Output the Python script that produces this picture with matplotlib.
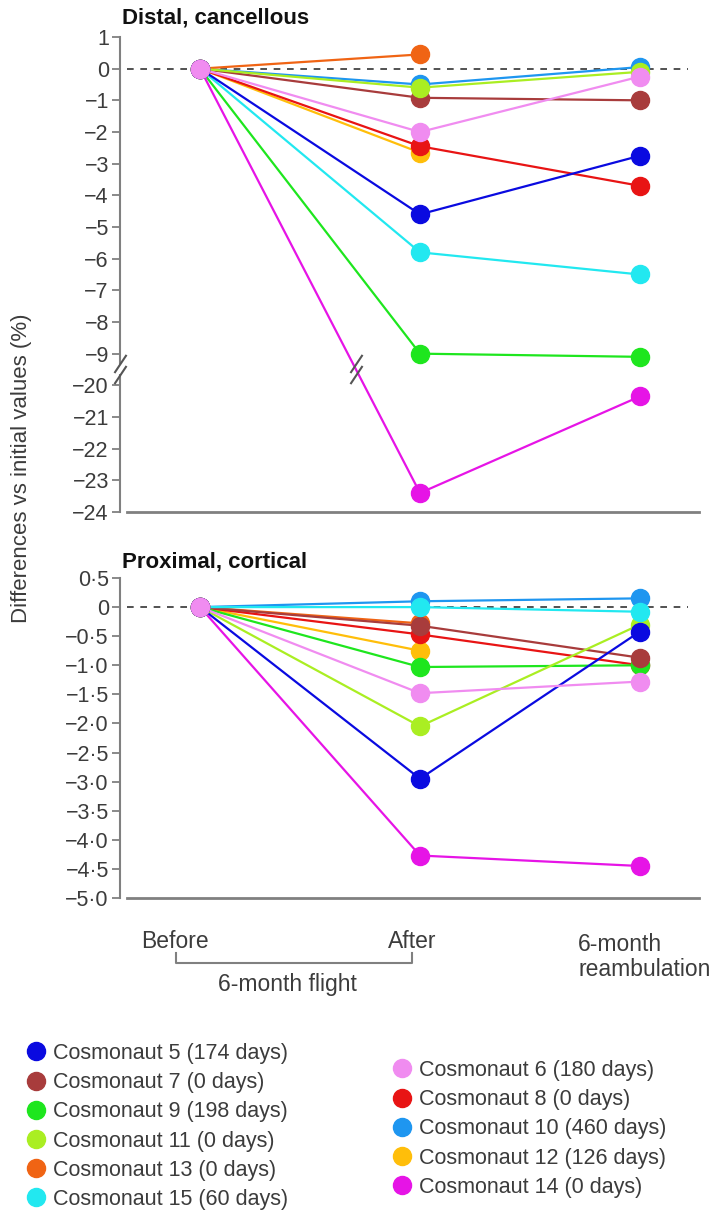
import numpy as np
import matplotlib
matplotlib.use("Agg")
import matplotlib.pyplot as plt
from matplotlib.lines import Line2D
from matplotlib.path import Path

plt.rcParams['font.family'] = ['Liberation Sans', 'DejaVu Sans']

# ---------------- data ----------------
timepoints = ["Before", "After", "6-month\nreambulation"]
cosmonauts = ["Cosmonaut 5 (174 days)", "Cosmonaut 7 (0 days)", "Cosmonaut 9 (198 days)",
              "Cosmonaut 11 (0 days)", "Cosmonaut 13 (0 days)", "Cosmonaut 15 (60 days)",
              "Cosmonaut 6 (180 days)", "Cosmonaut 8 (0 days)", "Cosmonaut 10 (460 days)",
              "Cosmonaut 12 (126 days)", "Cosmonaut 14 (0 days)"]
ids = [5, 7, 9, 11, 13, 15, 6, 8, 10, 12, 14]
colors = ["#0a0ae0", "#a83c3c", "#1ee61e", "#aaee22", "#f06414", "#22e8f0",
          "#f08cf0", "#e81414", "#1e96f0", "#ffbe0a", "#e614e6"]

# distal, cancellous  [before, after, 6-month]
distal = {
    5: [0, -4.6, -2.75],
    7: [0, -0.92, -1.0],
    9: [0, -9.0, -9.1],
    11: [0, -0.6, -0.1],
    13: [0, 0.45, np.nan],
    15: [0, -5.8, -6.5],
    6: [0, -2.0, -0.25],
    8: [0, -2.45, -3.7],
    10: [0, -0.5, 0.05],
    12: [0, -2.65, np.nan],
    14: [0, -23.4, -20.35],
}
# proximal, cortical
proximal = {
    5: [0, -2.95, -0.42],
    7: [0, -0.32, -0.87],
    9: [0, -1.03, -1.0],
    11: [0, -2.05, -0.3],
    13: [0, -0.28, np.nan],
    15: [0, 0.0, -0.08],
    6: [0, -1.48, -1.28],
    8: [0, -0.47, -1.0],
    10: [0, 0.1, 0.15],
    12: [0, -0.75, np.nan],
    14: [0, -4.27, -4.45],
}
draw_order = [10, 13, 12, 8, 9, 7, 11, 15, 5, 14, 6]

top_ticks = [1, 0, -1, -2, -3, -4, -5, -6, -7, -8, -9, -20, -21, -22, -23, -24]
bot_ticks = [0.5, 0, -0.5, -1.0, -1.5, -2.0, -2.5, -3.0, -3.5, -4.0, -4.5, -5.0]

# ---------------- figure ----------------
W, H = 722, 1218
fig = plt.figure(figsize=(W / 100, H / 100), dpi=100)
GREY = "#808080"
TXT = "#3c3c3c"

def fwd(y):
    y = np.asarray(y, dtype=float)
    out = np.where(y > -9.5, y, np.where(y < -19.5, y + 10.0, -9.5))
    return np.where(np.isnan(y), np.nan, out)

def inv(t):
    t = np.asarray(t, dtype=float)
    return np.where(t > -9.5, t, t - 10.0)

xs = np.arange(len(timepoints))
xlim = (-0.364, 2.273)

ax1 = fig.add_axes([120 / W, 1 - 512 / H, 580 / W, 475 / H])
ax2 = fig.add_axes([120 / W, 1 - 898 / H, 580 / W, 320 / H])
ax1.set_yscale('function', functions=(fwd, inv))

TICK = 15.5

def style(ax, ylim, ticks, labels):
    ax.set_xlim(*xlim)
    ax.set_ylim(*ylim)
    ax.set_yticks(ticks)
    ax.set_yticklabels(labels)
    ax.set_xticks([])
    for s in ["top", "right"]:
        ax.spines[s].set_visible(False)
    ax.spines["left"].set_color(GREY)
    ax.spines["left"].set_linewidth(1.5)
    ax.spines["bottom"].set_color(GREY)
    ax.spines["bottom"].set_linewidth(2.0)
    ax.spines["bottom"].set_bounds(-0.33, 2.27)
    ax.tick_params(axis="y", length=6, width=1.3, color=GREY, labelsize=TICK,
                   labelcolor=TXT, pad=2)
    ax.hlines(0, -0.33, 2.22, colors="#333333", linestyles=(0, (4, 4)), lw=1.2, zorder=1)
    ax.patch.set_alpha(0)

def fmt_top(v):
    return str(v).replace("-", "\u2212")

def fmt_bot(v):
    if v == 0:
        return "0"
    return ("%.1f" % v).replace(".", "\u00b7").replace("-", "\u2212")

style(ax1, (-24, 1), top_ticks, [fmt_top(v) for v in top_ticks])
style(ax2, (-5.0, 0.5), bot_ticks, [fmt_bot(v) for v in bot_ticks])

cmap = dict(zip(ids, colors))
for ax, data in [(ax1, distal), (ax2, proximal)]:
    for k in draw_order:
        ax.plot(xs, data[k], color=cmap[k], lw=1.6, zorder=2, solid_capstyle="round")
    for k in draw_order:
        ax.plot(xs, data[k], ls="none", marker="o", ms=13, color=cmap[k],
                mec=cmap[k], zorder=3)

# break marks (two parallel slashes, vertically offset)
brk = Path([(-6, -3.5), (6, 14.5), (-6, -14.5), (6, 3.5)],
           [Path.MOVETO, Path.LINETO, Path.MOVETO, Path.LINETO])
ax1.plot([xlim[0]], [-9.5], marker="|", ms=7, mew=4, color="white",
         ls="none", clip_on=False, zorder=4)
ax1.plot([xlim[0]], [-9.5], marker=brk, ms=21, mew=1.5, color="#555555",
         fillstyle="none", ls="none", clip_on=False, zorder=5)
a14 = distal[14][1]
xb = xs[0] + (xs[1] - xs[0]) * (-9.5) / fwd(a14)
ax1.plot([xb], [-9.5], marker=brk, ms=21, mew=1.5, color="#555555",
         fillstyle="none", ls="none", clip_on=False, zorder=5)

# titles
fig.text(122 / W, 1 - 18 / H, "Distal, cancellous", fontsize=16, fontweight="bold",
         color="#111111", ha="left", va="center")
fig.text(122 / W, 1 - 562 / H, "Proximal, cortical", fontsize=16, fontweight="bold",
         color="#111111", ha="left", va="center")
fig.text(22 / W, 1 - 468 / H, "Differences vs initial values (%)", rotation=90,
         fontsize=16, color=TXT, ha="center", va="center")

# x labels
XL = 16.5
fig.text(175 / W, 1 - 942 / H, timepoints[0], fontsize=XL, color=TXT, ha="center", va="center")
fig.text(412 / W, 1 - 942 / H, timepoints[1], fontsize=XL, color=TXT, ha="center", va="center")
fig.text(578 / W, 1 - 957 / H, timepoints[2], fontsize=XL, color=TXT, ha="left", va="center",
         linespacing=1.15)
fig.add_artist(Line2D([176 / W, 176 / W, 412 / W, 412 / W],
                      [1 - 953 / H, 1 - 963 / H, 1 - 963 / H, 1 - 953 / H],
                      color=GREY, lw=1.5))
fig.text(287 / W, 1 - 984 / H, "6-month flight", fontsize=XL, color=TXT, ha="center", va="center")

# legends
def handle(c):
    return Line2D([], [], ls="none", marker="o", ms=13, color=c)

left_idx = [0, 1, 2, 3, 4, 5]
right_idx = [6, 7, 8, 9, 10]
kw = dict(frameon=False, fontsize=15.5, handlelength=0.75, handletextpad=0.4,
          labelspacing=0.38, borderpad=0, borderaxespad=0, labelcolor=TXT)
leg1 = fig.legend([handle(colors[i]) for i in left_idx], [cosmonauts[i] for i in left_idx],
                  loc="upper left", bbox_to_anchor=(28 / W, 1 - 1043 / H), **kw)
leg2 = fig.legend([handle(colors[i]) for i in right_idx], [cosmonauts[i] for i in right_idx],
                  loc="upper left", bbox_to_anchor=(394 / W, 1 - 1060 / H), **kw)

fig.savefig("out.png", dpi=100)
